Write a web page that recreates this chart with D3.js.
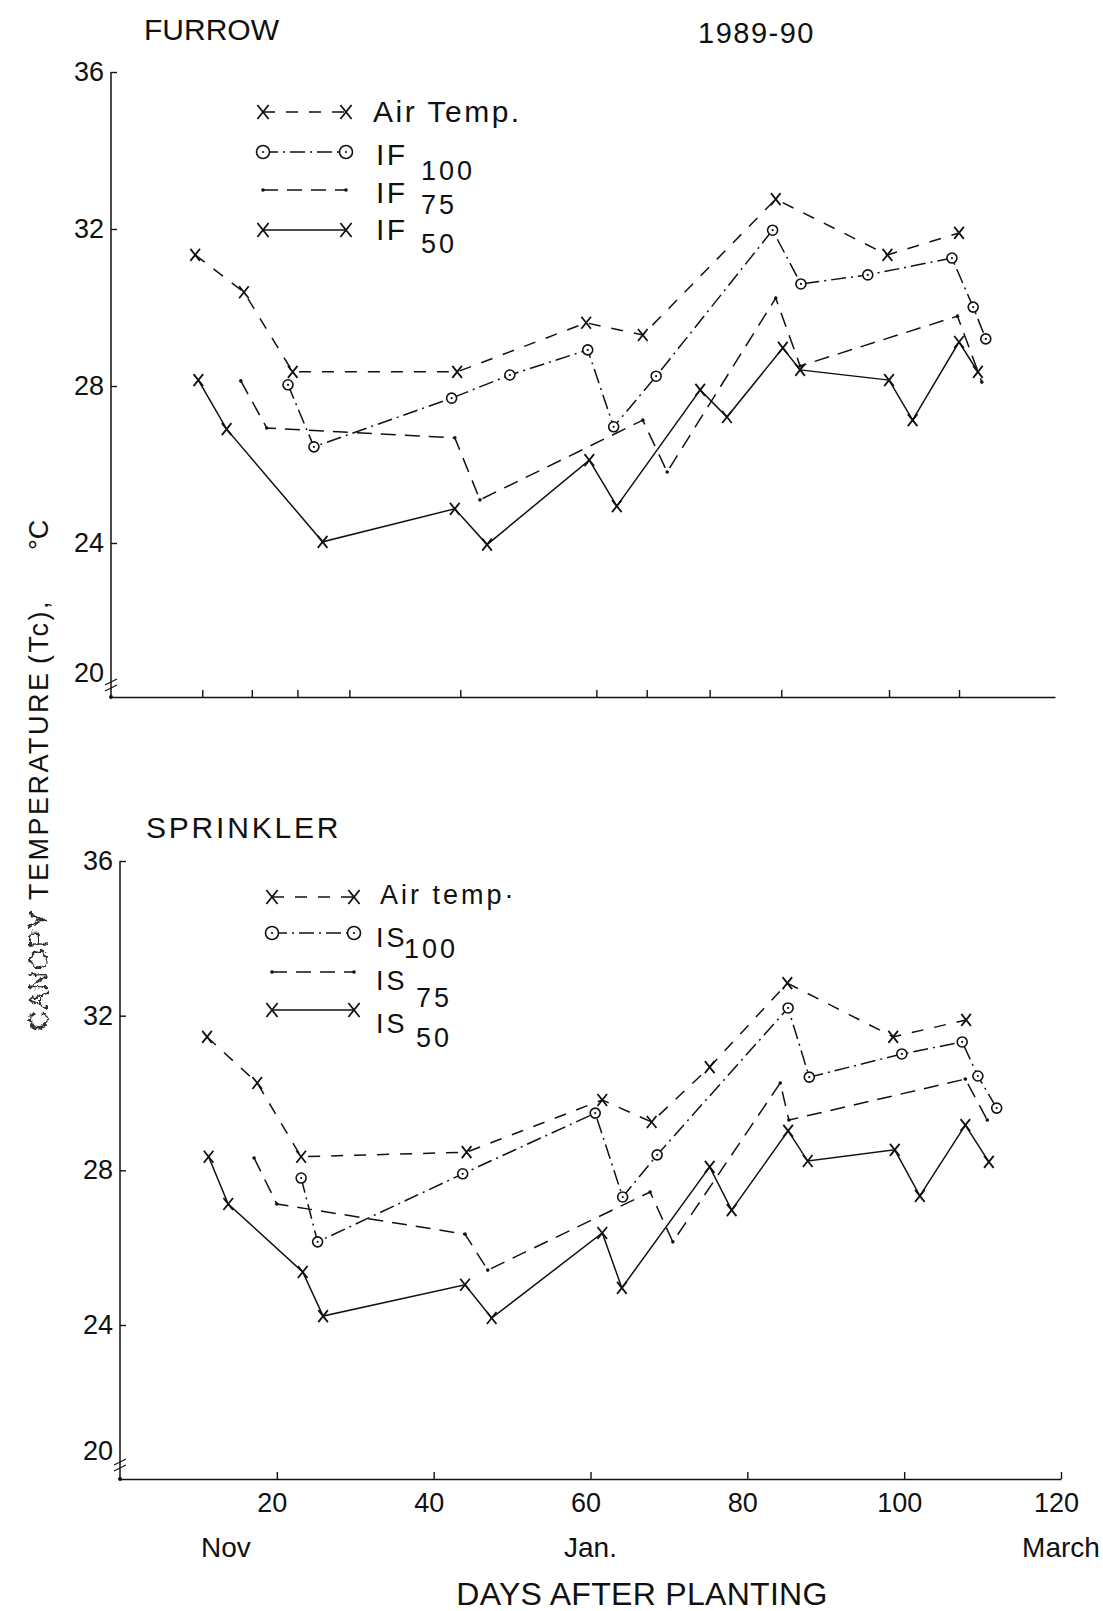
<!DOCTYPE html>
<html>
<head>
<meta charset="utf-8">
<script src="https://cdn.jsdelivr.net/npm/d3@7"></script>
<style>
  body { margin: 0; background: #fff; }
  svg text { font-family: "Liberation Sans", Arial, sans-serif; fill: #111; }
</style>
</head>
<body>
<svg id="chart" width="1103" height="1611"></svg>
<script>
// ---------------- Furrow irrigation, 1989-90 ----------------
// Days after planting and temperature (°C) of each series
const furrowAirDays = [10.7, 16.9, 23.1, 44.0, 60.4, 67.6, 84.5, 98.7, 107.8];
const furrowAirTemp = [31.34, 30.39, 28.36, 28.36, 29.61, 29.30, 32.76, 31.34, 31.90];
const if100Days = [22.5, 25.8, 43.3, 50.7, 60.6, 63.9, 69.3, 84.1, 87.7, 96.2, 106.9, 109.6, 111.2];
const if100Temp = [28.03, 26.45, 27.69, 28.28, 28.92, 26.96, 28.25, 31.97, 30.60, 30.83, 31.26, 30.01, 29.20];
const if75Days = [16.5, 19.8, 43.7, 46.9, 67.6, 70.7, 84.5, 87.6, 107.6, 110.7];
const if75Temp = [28.13, 26.93, 26.68, 25.10, 27.13, 25.81, 30.24, 28.51, 29.78, 28.10];
const if50Days = [11.1, 14.7, 26.9, 43.7, 47.8, 60.8, 64.3, 74.9, 78.3, 85.4, 87.6, 98.9, 101.9, 107.8, 110.2];
const if50Temp = [28.15, 26.90, 24.03, 24.87, 23.95, 26.11, 24.94, 27.90, 27.21, 28.97, 28.41, 28.15, 27.13, 29.12, 28.36];
// sampling dates marked on the furrow day axis
const furrowSampleDays = [11.6, 17.9, 23.7, 30.3, 44.4, 61.7, 68.1, 76.1, 85.2, 98.9, 107.8];
const furrowNames = ["Air Temp.", "IF", "IF", "IF"];
const furrowSubs = ["", "100", "75", "50"];

// ---------------- Sprinkler irrigation ----------------
const sprAirDays = [11.1, 17.5, 23.1, 44.2, 61.5, 67.8, 75.2, 85.1, 98.6, 107.9];
const sprAirTemp = [31.45, 30.26, 28.35, 28.47, 29.82, 29.25, 30.67, 32.84, 31.45, 31.89];
const is100Days = [23.1, 25.2, 43.7, 60.6, 64.1, 68.5, 85.2, 87.9, 99.7, 107.4, 109.4, 111.8];
const is100Temp = [27.80, 26.15, 27.91, 29.48, 27.31, 28.40, 32.20, 30.41, 31.01, 31.32, 30.44, 29.61];
const is75Days = [17.1, 20.0, 44.0, 46.9, 67.6, 70.5, 84.2, 85.3, 107.8, 110.6];
const is75Temp = [28.32, 27.13, 26.35, 25.42, 27.44, 26.15, 30.26, 29.30, 30.36, 29.30];
const is50Days = [11.3, 13.8, 23.3, 25.9, 44.0, 47.4, 61.5, 64.0, 75.2, 78.0, 85.2, 87.7, 98.8, 102.0, 107.8, 110.8];
const is50Temp = [28.35, 27.13, 25.37, 24.23, 25.04, 24.18, 26.38, 24.96, 28.09, 26.97, 29.02, 28.24, 28.53, 27.34, 29.17, 28.22];
const sprNames = ["Air temp\u00b7", "IS", "IS", "IS"];
const sprSubs = ["", "100", "75", "50"];

// ---------------- Axes ----------------
const tempTicks = [20, 24, 28, 32, 36];
const dayTicks = [20, 40, 60, 80, 100, 120];
const monthNames = ["Nov", "Jan.", "March"];
const monthDays = [13.5, 60, 120];

const svg = d3.select("#chart");
const ink = "#111";

// line style and marker for each treatment level
const styles = [
  { dash: "12,11", marker: "x" },        // air temperature
  { dash: "15,5,2,5", marker: "o" },     // 100 %
  { dash: "15,9", marker: "dot" },       // 75 %
  { dash: null, marker: "x" }            // 50 %
];

function drawMarker(g, kind, cx, cy, big) {
  if (kind === "x") {
    const s = big ? 7 : 6;
    g.append("path")
      .attr("d", `M${cx - s * 0.8},${cy - s}L${cx + s * 0.8},${cy + s}M${cx + s * 0.8},${cy - s}L${cx - s * 0.8},${cy + s}`)
      .attr("stroke", ink).attr("stroke-width", 1.8).attr("fill", "none");
  } else if (kind === "o") {
    g.append("circle").attr("cx", cx).attr("cy", cy).attr("r", big ? 6.5 : 5)
      .attr("fill", "#fff").attr("stroke", ink).attr("stroke-width", 1.6);
    g.append("circle").attr("cx", cx).attr("cy", cy).attr("r", 1.1).attr("fill", ink);
  } else {
    g.append("circle").attr("cx", cx).attr("cy", cy).attr("r", 1.8).attr("fill", ink);
  }
}

function drawPanel(cfg) {
  const g = svg.append("g");
  const x = d3.scaleLinear().domain([0, 120]).range(cfg.xRange);
  // the temperature axis is broken between 20 and 24
  const y = d3.scaleLinear().domain([20, 24, 36]).range(cfg.yRange);
  const x0 = x(0);

  // temperature axis
  const ya = g.append("g").attr("transform", `translate(${x0},0)`)
    .call(d3.axisLeft(y).tickValues(tempTicks).tickSize(-6).tickPadding(7).tickFormat(d3.format("d")));
  ya.select(".domain").remove();
  ya.selectAll(".tick").filter(d => d === 20).select("line").remove();
  ya.selectAll("line").attr("stroke", ink).attr("stroke-width", 1.4);
  ya.selectAll("text").attr("font-size", 27).attr("font-family", "Liberation Sans, Arial, sans-serif").attr("fill", ink);
  g.append("line").attr("x1", x0).attr("x2", x0).attr("y1", y(36)).attr("y2", cfg.axisY)
    .attr("stroke", ink).attr("stroke-width", 1.5);

  // axis break mark below 20
  const yb = (y(20) + cfg.axisY) / 2;
  [-3, 3].forEach(o => {
    g.append("line").attr("x1", x0 - 6).attr("x2", x0 + 6).attr("y1", yb + o + 3).attr("y2", yb + o - 3)
      .attr("stroke", ink).attr("stroke-width", 1.2);
  });

  // day axis
  const xa = g.append("g").attr("transform", `translate(0,${cfg.axisY})`)
    .call(d3.axisBottom(x).tickValues(cfg.xTicks).tickSize(-7).tickSizeOuter(0).tickPadding(14)
      .tickFormat(cfg.xLabels ? d3.format("d") : () => ""));
  xa.select(".domain").attr("stroke", ink).attr("stroke-width", 1.6);
  xa.selectAll("line").attr("stroke", ink).attr("stroke-width", 1.4);
  xa.selectAll("text").attr("font-size", 27).attr("font-family", "Liberation Sans, Arial, sans-serif")
    .attr("fill", ink).attr("dx", -5);
  g.append("circle").attr("cx", x0).attr("cy", cfg.axisY).attr("r", 2).attr("fill", ink);

  // series
  const line = d3.line().x(d => x(d[0])).y(d => y(d[1]));
  cfg.series.forEach((s, i) => {
    const pts = d3.zip(s.days, s.temp);
    const st = styles[i];
    g.append("path").datum(pts).attr("d", line)
      .attr("fill", "none").attr("stroke", ink).attr("stroke-width", 1.5)
      .attr("stroke-dasharray", st.dash);
    const mg = g.append("g");
    pts.forEach(p => drawMarker(mg, st.marker, x(p[0]), y(p[1]), false));
  });

  // legend
  const lg = g.append("g");
  cfg.legend.rows.forEach((ry, i) => {
    const st = styles[i];
    const [lx1, lx2] = cfg.legend.symbolX;
    lg.append("line").attr("x1", lx1).attr("x2", lx2).attr("y1", ry).attr("y2", ry)
      .attr("stroke", ink).attr("stroke-width", 1.5).attr("stroke-dasharray", st.dash);
    drawMarker(lg, st.marker, lx1, ry, true);
    drawMarker(lg, st.marker, lx2, ry, true);
    const t = lg.append("text").attr("font-size", cfg.legend.fontSize).attr("letter-spacing", cfg.legend.spacing);
    if (cfg.subs[i] === "") {
      t.attr("x", cfg.legend.airX).attr("y", cfg.legend.textY[i]).text(cfg.names[i]);
    } else {
      t.attr("x", cfg.legend.codeX).attr("y", cfg.legend.textY[i]).text(cfg.names[i]);
      lg.append("text").attr("x", cfg.legend.subX[i]).attr("y", cfg.legend.subY[i])
        .attr("font-size", cfg.legend.subSize).attr("letter-spacing", 3).text(cfg.subs[i]);
    }
  });

  // panel title
  g.append("text").attr("x", cfg.title.x).attr("y", cfg.title.y)
    .attr("font-size", 30).attr("letter-spacing", cfg.title.spacing).text(cfg.title.text);
  return { x, y };
}

const furrowPanel = drawPanel({
  xRange: [111, 1055],
  yRange: [673, 543, 72],
  axisY: 697,
  xTicks: furrowSampleDays,
  xLabels: false,
  series: [
    { days: furrowAirDays, temp: furrowAirTemp },
    { days: if100Days, temp: if100Temp },
    { days: if75Days, temp: if75Temp },
    { days: if50Days, temp: if50Temp }
  ],
  names: furrowNames,
  subs: furrowSubs,
  legend: {
    rows: [112, 152, 190, 230],
    symbolX: [263, 346],
    airX: 373, codeX: 376,
    textY: [122, 165, 203, 240],
    subX: [0, 421, 421, 421],
    subY: [0, 180, 214, 253],
    fontSize: 30, subSize: 27, spacing: 2.5
  },
  title: { text: "FURROW", x: 144, y: 40, spacing: 0 }
});

const sprinklerPanel = drawPanel({
  xRange: [120, 1061],
  yRange: [1451, 1325, 861],
  axisY: 1479,
  xTicks: dayTicks,
  xLabels: true,
  series: [
    { days: sprAirDays, temp: sprAirTemp },
    { days: is100Days, temp: is100Temp },
    { days: is75Days, temp: is75Temp },
    { days: is50Days, temp: is50Temp }
  ],
  names: sprNames,
  subs: sprSubs,
  legend: {
    rows: [897, 933, 972, 1010],
    symbolX: [272, 354],
    airX: 380, codeX: 376,
    textY: [904, 947, 990, 1033],
    subX: [0, 404, 416, 416],
    subY: [0, 958, 1007, 1047],
    fontSize: 27, subSize: 27, spacing: 3
  },
  title: { text: "SPRINKLER", x: 146, y: 838, spacing: 2.8 }
});

// season label
svg.append("text").attr("x", 698).attr("y", 43).attr("font-size", 29).attr("letter-spacing", 1.5).text("1989-90");

// month names under the day axis
monthNames.forEach((m, i) => {
  svg.append("text").attr("x", sprinklerPanel.x(monthDays[i])).attr("y", 1557)
    .attr("text-anchor", "middle").attr("font-size", 28).text(m);
});

// day axis title
svg.append("text").attr("x", 642).attr("y", 1605).attr("text-anchor", "middle")
  .attr("font-size", 32).attr("letter-spacing", 0.3).text("DAYS AFTER PLANTING");

// temperature axis title, read bottom to top
const defs = svg.append("defs");
const smudge = defs.append("filter").attr("id", "smudge").attr("x", "-20%").attr("y", "-40%")
  .attr("width", "140%").attr("height", "180%");
smudge.append("feTurbulence").attr("type", "fractalNoise").attr("baseFrequency", 0.22)
  .attr("numOctaves", 2).attr("seed", 4).attr("result", "noise");
smudge.append("feDisplacementMap").attr("in", "SourceGraphic").attr("in2", "noise")
  .attr("scale", 7).attr("xChannelSelector", "R").attr("yChannelSelector", "G");

const yt = svg.append("g").attr("transform", "translate(48,1030) rotate(-90)");
yt.append("text").attr("x", 0).attr("y", 0).attr("font-size", 27).attr("letter-spacing", 1)
  .attr("filter", "url(#smudge)").attr("opacity", 0.85).text("CANOPY");
yt.append("text").attr("x", 130).attr("y", 0).attr("font-size", 27).attr("letter-spacing", 2.5).text("TEMPERATURE");
yt.append("text").attr("x", 366).attr("y", 0).attr("font-size", 27).attr("letter-spacing", 2.5).text("(Tc),");
yt.append("text").attr("x", 480).attr("y", 0).attr("font-size", 27).text("\u00b0C");
</script>
</body>
</html>
